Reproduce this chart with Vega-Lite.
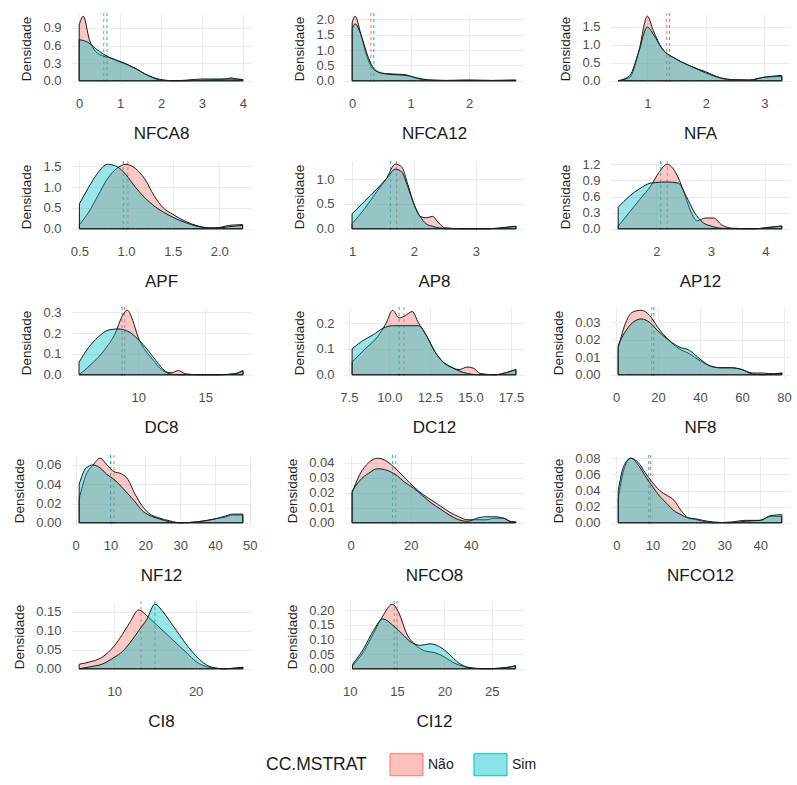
{
"$schema":"https://vega.github.io/schema/vega-lite/v6.json",
"background":"white",
"padding":{"left":12,"top":12,"right":4,"bottom":4},
"datasets":{
"d":[
{"v":"NFCA8","g":"Não","k":"m","x":0.6},{"v":"NFCA8","g":"Sim","k":"m","x":0.68},
{"v":"NFCA12","g":"Não","k":"m","x":0.32},{"v":"NFCA12","g":"Sim","k":"m","x":0.37},
{"v":"NFA","g":"Não","k":"m","x":1.33},{"v":"NFA","g":"Sim","k":"m","x":1.38},
{"v":"APF","g":"Não","k":"m","x":1.02},{"v":"APF","g":"Sim","k":"m","x":0.97},
{"v":"AP8","g":"Não","k":"m","x":1.72},{"v":"AP8","g":"Sim","k":"m","x":1.62},
{"v":"AP12","g":"Não","k":"m","x":2.2},{"v":"AP12","g":"Sim","k":"m","x":2.08},
{"v":"DC8","g":"Não","k":"m","x":9.0},{"v":"DC8","g":"Sim","k":"m","x":8.8},
{"v":"DC12","g":"Não","k":"m","x":10.9},{"v":"DC12","g":"Sim","k":"m","x":10.6},
{"v":"NF8","g":"Não","k":"m","x":17},{"v":"NF8","g":"Sim","k":"m","x":18},
{"v":"NF12","g":"Não","k":"m","x":11},{"v":"NF12","g":"Sim","k":"m","x":10},
{"v":"NFCO8","g":"Não","k":"m","x":15},{"v":"NFCO8","g":"Sim","k":"m","x":14},
{"v":"NFCO12","g":"Não","k":"m","x":9.5},{"v":"NFCO12","g":"Sim","k":"m","x":9},
{"v":"CI8","g":"Não","k":"m","x":13.3},{"v":"CI8","g":"Sim","k":"m","x":15.0},
{"v":"CI12","g":"Não","k":"m","x":15},{"v":"CI12","g":"Sim","k":"m","x":14.7},

{"v":"NFCA8","g":"Não","x":0,"y":0.95},{"v":"NFCA8","g":"Não","x":0.1,"y":1.1},{"v":"NFCA8","g":"Não","x":0.25,"y":0.7},{"v":"NFCA8","g":"Não","x":0.4,"y":0.5},{"v":"NFCA8","g":"Não","x":0.6,"y":0.42},{"v":"NFCA8","g":"Não","x":0.8,"y":0.38},{"v":"NFCA8","g":"Não","x":1.0,"y":0.32},{"v":"NFCA8","g":"Não","x":1.2,"y":0.27},{"v":"NFCA8","g":"Não","x":1.4,"y":0.2},{"v":"NFCA8","g":"Não","x":1.6,"y":0.12},{"v":"NFCA8","g":"Não","x":1.8,"y":0.05},{"v":"NFCA8","g":"Não","x":2.0,"y":0.01},{"v":"NFCA8","g":"Não","x":2.5,"y":0.0},{"v":"NFCA8","g":"Não","x":3.0,"y":0.01},{"v":"NFCA8","g":"Não","x":3.3,"y":0.02},{"v":"NFCA8","g":"Não","x":3.6,"y":0.03},{"v":"NFCA8","g":"Não","x":3.7,"y":0.05},{"v":"NFCA8","g":"Não","x":3.85,"y":0.03},{"v":"NFCA8","g":"Não","x":4.0,"y":0.02},
{"v":"NFCA8","g":"Sim","x":0,"y":0.7},{"v":"NFCA8","g":"Sim","x":0.2,"y":0.66},{"v":"NFCA8","g":"Sim","x":0.4,"y":0.55},{"v":"NFCA8","g":"Sim","x":0.6,"y":0.45},{"v":"NFCA8","g":"Sim","x":0.8,"y":0.38},{"v":"NFCA8","g":"Sim","x":1.0,"y":0.33},{"v":"NFCA8","g":"Sim","x":1.2,"y":0.27},{"v":"NFCA8","g":"Sim","x":1.4,"y":0.2},{"v":"NFCA8","g":"Sim","x":1.6,"y":0.12},{"v":"NFCA8","g":"Sim","x":1.8,"y":0.06},{"v":"NFCA8","g":"Sim","x":2.0,"y":0.02},{"v":"NFCA8","g":"Sim","x":2.3,"y":0.0},{"v":"NFCA8","g":"Sim","x":2.6,"y":0.01},{"v":"NFCA8","g":"Sim","x":3.0,"y":0.03},{"v":"NFCA8","g":"Sim","x":3.4,"y":0.03},{"v":"NFCA8","g":"Sim","x":3.7,"y":0.03},{"v":"NFCA8","g":"Sim","x":4.0,"y":0.02},

{"v":"NFCA12","g":"Não","x":0,"y":1.9},{"v":"NFCA12","g":"Não","x":0.05,"y":2.1},{"v":"NFCA12","g":"Não","x":0.15,"y":1.5},{"v":"NFCA12","g":"Não","x":0.25,"y":0.8},{"v":"NFCA12","g":"Não","x":0.35,"y":0.4},{"v":"NFCA12","g":"Não","x":0.5,"y":0.25},{"v":"NFCA12","g":"Não","x":0.7,"y":0.22},{"v":"NFCA12","g":"Não","x":0.9,"y":0.2},{"v":"NFCA12","g":"Não","x":1.1,"y":0.08},{"v":"NFCA12","g":"Não","x":1.3,"y":0.02},{"v":"NFCA12","g":"Não","x":1.6,"y":0.01},{"v":"NFCA12","g":"Não","x":2.0,"y":0.02},{"v":"NFCA12","g":"Não","x":2.4,"y":0.01},{"v":"NFCA12","g":"Não","x":2.8,"y":0.02},
{"v":"NFCA12","g":"Sim","x":0,"y":1.7},{"v":"NFCA12","g":"Sim","x":0.05,"y":1.85},{"v":"NFCA12","g":"Sim","x":0.15,"y":1.5},{"v":"NFCA12","g":"Sim","x":0.25,"y":0.9},{"v":"NFCA12","g":"Sim","x":0.35,"y":0.45},{"v":"NFCA12","g":"Sim","x":0.5,"y":0.25},{"v":"NFCA12","g":"Sim","x":0.7,"y":0.2},{"v":"NFCA12","g":"Sim","x":0.9,"y":0.18},{"v":"NFCA12","g":"Sim","x":1.1,"y":0.1},{"v":"NFCA12","g":"Sim","x":1.3,"y":0.03},{"v":"NFCA12","g":"Sim","x":1.6,"y":0.01},{"v":"NFCA12","g":"Sim","x":2.0,"y":0.02},{"v":"NFCA12","g":"Sim","x":2.4,"y":0.01},{"v":"NFCA12","g":"Sim","x":2.8,"y":0.02},

{"v":"NFA","g":"Não","x":0.5,"y":0.0},{"v":"NFA","g":"Não","x":0.7,"y":0.1},{"v":"NFA","g":"Não","x":0.85,"y":0.8},{"v":"NFA","g":"Não","x":1.0,"y":1.8},{"v":"NFA","g":"Não","x":1.1,"y":1.4},{"v":"NFA","g":"Não","x":1.25,"y":0.9},{"v":"NFA","g":"Não","x":1.5,"y":0.6},{"v":"NFA","g":"Não","x":1.75,"y":0.4},{"v":"NFA","g":"Não","x":2.0,"y":0.25},{"v":"NFA","g":"Não","x":2.25,"y":0.08},{"v":"NFA","g":"Não","x":2.5,"y":0.02},{"v":"NFA","g":"Não","x":2.75,"y":0.02},{"v":"NFA","g":"Não","x":3.0,"y":0.1},{"v":"NFA","g":"Não","x":3.3,"y":0.12},
{"v":"NFA","g":"Sim","x":0.5,"y":0.0},{"v":"NFA","g":"Sim","x":0.7,"y":0.15},{"v":"NFA","g":"Sim","x":0.85,"y":0.8},{"v":"NFA","g":"Sim","x":1.0,"y":1.5},{"v":"NFA","g":"Sim","x":1.1,"y":1.3},{"v":"NFA","g":"Sim","x":1.25,"y":0.9},{"v":"NFA","g":"Sim","x":1.5,"y":0.6},{"v":"NFA","g":"Sim","x":1.75,"y":0.4},{"v":"NFA","g":"Sim","x":2.0,"y":0.22},{"v":"NFA","g":"Sim","x":2.25,"y":0.08},{"v":"NFA","g":"Sim","x":2.5,"y":0.03},{"v":"NFA","g":"Sim","x":2.75,"y":0.02},{"v":"NFA","g":"Sim","x":3.0,"y":0.1},{"v":"NFA","g":"Sim","x":3.3,"y":0.15},

{"v":"APF","g":"Não","x":0.5,"y":0.1},{"v":"APF","g":"Não","x":0.6,"y":0.4},{"v":"APF","g":"Não","x":0.7,"y":0.8},{"v":"APF","g":"Não","x":0.8,"y":1.2},{"v":"APF","g":"Não","x":0.9,"y":1.45},{"v":"APF","g":"Não","x":1.0,"y":1.55},{"v":"APF","g":"Não","x":1.1,"y":1.45},{"v":"APF","g":"Não","x":1.2,"y":1.2},{"v":"APF","g":"Não","x":1.3,"y":0.8},{"v":"APF","g":"Não","x":1.4,"y":0.5},{"v":"APF","g":"Não","x":1.5,"y":0.35},{"v":"APF","g":"Não","x":1.6,"y":0.22},{"v":"APF","g":"Não","x":1.7,"y":0.12},{"v":"APF","g":"Não","x":1.8,"y":0.05},{"v":"APF","g":"Não","x":1.9,"y":0.02},{"v":"APF","g":"Não","x":2.0,"y":0.03},{"v":"APF","g":"Não","x":2.1,"y":0.08},{"v":"APF","g":"Não","x":2.25,"y":0.1},
{"v":"APF","g":"Sim","x":0.5,"y":0.6},{"v":"APF","g":"Sim","x":0.6,"y":1.0},{"v":"APF","g":"Sim","x":0.7,"y":1.35},{"v":"APF","g":"Sim","x":0.8,"y":1.55},{"v":"APF","g":"Sim","x":0.9,"y":1.5},{"v":"APF","g":"Sim","x":1.0,"y":1.3},{"v":"APF","g":"Sim","x":1.1,"y":1.0},{"v":"APF","g":"Sim","x":1.2,"y":0.75},{"v":"APF","g":"Sim","x":1.3,"y":0.55},{"v":"APF","g":"Sim","x":1.4,"y":0.4},{"v":"APF","g":"Sim","x":1.5,"y":0.28},{"v":"APF","g":"Sim","x":1.6,"y":0.18},{"v":"APF","g":"Sim","x":1.7,"y":0.1},{"v":"APF","g":"Sim","x":1.8,"y":0.04},{"v":"APF","g":"Sim","x":1.9,"y":0.02},{"v":"APF","g":"Sim","x":2.0,"y":0.02},{"v":"APF","g":"Sim","x":2.1,"y":0.05},{"v":"APF","g":"Sim","x":2.25,"y":0.08},

{"v":"AP8","g":"Não","x":1.0,"y":0.1},{"v":"AP8","g":"Não","x":1.2,"y":0.4},{"v":"AP8","g":"Não","x":1.4,"y":0.75},{"v":"AP8","g":"Não","x":1.55,"y":1.0},{"v":"AP8","g":"Não","x":1.7,"y":1.3},{"v":"AP8","g":"Não","x":1.8,"y":1.25},{"v":"AP8","g":"Não","x":1.9,"y":0.9},{"v":"AP8","g":"Não","x":2.0,"y":0.5},{"v":"AP8","g":"Não","x":2.1,"y":0.25},{"v":"AP8","g":"Não","x":2.2,"y":0.22},{"v":"AP8","g":"Não","x":2.3,"y":0.25},{"v":"AP8","g":"Não","x":2.4,"y":0.12},{"v":"AP8","g":"Não","x":2.5,"y":0.02},{"v":"AP8","g":"Não","x":2.8,"y":0.0},{"v":"AP8","g":"Não","x":3.2,"y":0.0},{"v":"AP8","g":"Não","x":3.5,"y":0.03},{"v":"AP8","g":"Não","x":3.65,"y":0.05},
{"v":"AP8","g":"Sim","x":1.0,"y":0.3},{"v":"AP8","g":"Sim","x":1.2,"y":0.55},{"v":"AP8","g":"Sim","x":1.4,"y":0.8},{"v":"AP8","g":"Sim","x":1.55,"y":1.0},{"v":"AP8","g":"Sim","x":1.7,"y":1.2},{"v":"AP8","g":"Sim","x":1.8,"y":1.15},{"v":"AP8","g":"Sim","x":1.9,"y":0.85},{"v":"AP8","g":"Sim","x":2.0,"y":0.5},{"v":"AP8","g":"Sim","x":2.1,"y":0.25},{"v":"AP8","g":"Sim","x":2.2,"y":0.1},{"v":"AP8","g":"Sim","x":2.3,"y":0.05},{"v":"AP8","g":"Sim","x":2.4,"y":0.02},{"v":"AP8","g":"Sim","x":2.6,"y":0.0},{"v":"AP8","g":"Sim","x":3.2,"y":0.0},{"v":"AP8","g":"Sim","x":3.5,"y":0.03},{"v":"AP8","g":"Sim","x":3.65,"y":0.05},

{"v":"AP12","g":"Não","x":1.3,"y":0.05},{"v":"AP12","g":"Não","x":1.5,"y":0.3},{"v":"AP12","g":"Não","x":1.7,"y":0.55},{"v":"AP12","g":"Não","x":1.9,"y":0.8},{"v":"AP12","g":"Não","x":2.05,"y":1.05},{"v":"AP12","g":"Não","x":2.2,"y":1.2},{"v":"AP12","g":"Não","x":2.35,"y":1.05},{"v":"AP12","g":"Não","x":2.5,"y":0.7},{"v":"AP12","g":"Não","x":2.6,"y":0.4},{"v":"AP12","g":"Não","x":2.75,"y":0.15},{"v":"AP12","g":"Não","x":2.9,"y":0.2},{"v":"AP12","g":"Não","x":3.05,"y":0.2},{"v":"AP12","g":"Não","x":3.2,"y":0.07},{"v":"AP12","g":"Não","x":3.4,"y":0.01},{"v":"AP12","g":"Não","x":3.8,"y":0.0},{"v":"AP12","g":"Não","x":4.1,"y":0.03},{"v":"AP12","g":"Não","x":4.3,"y":0.05},
{"v":"AP12","g":"Sim","x":1.3,"y":0.4},{"v":"AP12","g":"Sim","x":1.5,"y":0.6},{"v":"AP12","g":"Sim","x":1.7,"y":0.75},{"v":"AP12","g":"Sim","x":1.9,"y":0.85},{"v":"AP12","g":"Sim","x":2.2,"y":0.87},{"v":"AP12","g":"Sim","x":2.4,"y":0.85},{"v":"AP12","g":"Sim","x":2.55,"y":0.6},{"v":"AP12","g":"Sim","x":2.7,"y":0.3},{"v":"AP12","g":"Sim","x":2.85,"y":0.12},{"v":"AP12","g":"Sim","x":3.0,"y":0.05},{"v":"AP12","g":"Sim","x":3.2,"y":0.01},{"v":"AP12","g":"Sim","x":3.5,"y":0.0},{"v":"AP12","g":"Sim","x":3.8,"y":0.0},{"v":"AP12","g":"Sim","x":4.1,"y":0.03},{"v":"AP12","g":"Sim","x":4.3,"y":0.05},

{"v":"DC8","g":"Não","x":5.6,"y":0.0},{"v":"DC8","g":"Não","x":6.5,"y":0.05},{"v":"DC8","g":"Não","x":7.5,"y":0.12},{"v":"DC8","g":"Não","x":8.3,"y":0.2},{"v":"DC8","g":"Não","x":8.8,"y":0.28},{"v":"DC8","g":"Não","x":9.2,"y":0.31},{"v":"DC8","g":"Não","x":9.6,"y":0.26},{"v":"DC8","g":"Não","x":10.0,"y":0.18},{"v":"DC8","g":"Não","x":10.5,"y":0.12},{"v":"DC8","g":"Não","x":11.0,"y":0.08},{"v":"DC8","g":"Não","x":11.5,"y":0.04},{"v":"DC8","g":"Não","x":12.0,"y":0.015},{"v":"DC8","g":"Não","x":12.5,"y":0.01},{"v":"DC8","g":"Não","x":13.0,"y":0.02},{"v":"DC8","g":"Não","x":13.5,"y":0.005},{"v":"DC8","g":"Não","x":14.5,"y":0.0},{"v":"DC8","g":"Não","x":16,"y":0.0},{"v":"DC8","g":"Não","x":17.2,"y":0.005},{"v":"DC8","g":"Não","x":17.8,"y":0.02},
{"v":"DC8","g":"Sim","x":5.6,"y":0.06},{"v":"DC8","g":"Sim","x":6.3,"y":0.13},{"v":"DC8","g":"Sim","x":7.0,"y":0.18},{"v":"DC8","g":"Sim","x":7.8,"y":0.215},{"v":"DC8","g":"Sim","x":8.5,"y":0.22},{"v":"DC8","g":"Sim","x":9.2,"y":0.21},{"v":"DC8","g":"Sim","x":10.0,"y":0.17},{"v":"DC8","g":"Sim","x":10.7,"y":0.12},{"v":"DC8","g":"Sim","x":11.3,"y":0.07},{"v":"DC8","g":"Sim","x":11.8,"y":0.03},{"v":"DC8","g":"Sim","x":12.3,"y":0.005},{"v":"DC8","g":"Sim","x":13,"y":0.0},{"v":"DC8","g":"Sim","x":16,"y":0.0},{"v":"DC8","g":"Sim","x":17.2,"y":0.005},{"v":"DC8","g":"Sim","x":17.8,"y":0.02},

{"v":"DC12","g":"Não","x":7.7,"y":0.05},{"v":"DC12","g":"Não","x":8.5,"y":0.1},{"v":"DC12","g":"Não","x":9.3,"y":0.15},{"v":"DC12","g":"Não","x":9.8,"y":0.2},{"v":"DC12","g":"Não","x":10.2,"y":0.25},{"v":"DC12","g":"Não","x":10.6,"y":0.22},{"v":"DC12","g":"Não","x":11.0,"y":0.23},{"v":"DC12","g":"Não","x":11.4,"y":0.245},{"v":"DC12","g":"Não","x":11.8,"y":0.2},{"v":"DC12","g":"Não","x":12.3,"y":0.15},{"v":"DC12","g":"Não","x":12.8,"y":0.09},{"v":"DC12","g":"Não","x":13.3,"y":0.05},{"v":"DC12","g":"Não","x":13.8,"y":0.03},{"v":"DC12","g":"Não","x":14.3,"y":0.02},{"v":"DC12","g":"Não","x":14.8,"y":0.03},{"v":"DC12","g":"Não","x":15.2,"y":0.025},{"v":"DC12","g":"Não","x":15.6,"y":0.005},{"v":"DC12","g":"Não","x":16.5,"y":0.0},{"v":"DC12","g":"Não","x":17.3,"y":0.01},{"v":"DC12","g":"Não","x":17.8,"y":0.02},
{"v":"DC12","g":"Sim","x":7.7,"y":0.1},{"v":"DC12","g":"Sim","x":8.3,"y":0.13},{"v":"DC12","g":"Sim","x":9.0,"y":0.155},{"v":"DC12","g":"Sim","x":9.6,"y":0.18},{"v":"DC12","g":"Sim","x":10.2,"y":0.19},{"v":"DC12","g":"Sim","x":11.0,"y":0.19},{"v":"DC12","g":"Sim","x":11.8,"y":0.19},{"v":"DC12","g":"Sim","x":12.3,"y":0.15},{"v":"DC12","g":"Sim","x":12.8,"y":0.09},{"v":"DC12","g":"Sim","x":13.3,"y":0.05},{"v":"DC12","g":"Sim","x":13.8,"y":0.03},{"v":"DC12","g":"Sim","x":14.3,"y":0.015},{"v":"DC12","g":"Sim","x":14.8,"y":0.005},{"v":"DC12","g":"Sim","x":15.5,"y":0.0},{"v":"DC12","g":"Sim","x":16.5,"y":0.0},{"v":"DC12","g":"Sim","x":17.3,"y":0.01},{"v":"DC12","g":"Sim","x":17.8,"y":0.02},

{"v":"NF8","g":"Não","x":1,"y":0.015},{"v":"NF8","g":"Não","x":4,"y":0.028},{"v":"NF8","g":"Não","x":8,"y":0.036},{"v":"NF8","g":"Não","x":12,"y":0.037},{"v":"NF8","g":"Não","x":16,"y":0.034},{"v":"NF8","g":"Não","x":20,"y":0.027},{"v":"NF8","g":"Não","x":25,"y":0.02},{"v":"NF8","g":"Não","x":30,"y":0.015},{"v":"NF8","g":"Não","x":35,"y":0.012},{"v":"NF8","g":"Não","x":40,"y":0.008},{"v":"NF8","g":"Não","x":45,"y":0.005},{"v":"NF8","g":"Não","x":50,"y":0.004},{"v":"NF8","g":"Não","x":55,"y":0.004},{"v":"NF8","g":"Não","x":60,"y":0.003},{"v":"NF8","g":"Não","x":65,"y":0.001},{"v":"NF8","g":"Não","x":70,"y":0.001},{"v":"NF8","g":"Não","x":75,"y":0.0005},{"v":"NF8","g":"Não","x":79,"y":0.001},
{"v":"NF8","g":"Sim","x":1,"y":0.017},{"v":"NF8","g":"Sim","x":4,"y":0.024},{"v":"NF8","g":"Sim","x":8,"y":0.03},{"v":"NF8","g":"Sim","x":12,"y":0.032},{"v":"NF8","g":"Sim","x":16,"y":0.03},{"v":"NF8","g":"Sim","x":20,"y":0.025},{"v":"NF8","g":"Sim","x":25,"y":0.02},{"v":"NF8","g":"Sim","x":30,"y":0.016},{"v":"NF8","g":"Sim","x":35,"y":0.014},{"v":"NF8","g":"Sim","x":40,"y":0.009},{"v":"NF8","g":"Sim","x":45,"y":0.005},{"v":"NF8","g":"Sim","x":50,"y":0.004},{"v":"NF8","g":"Sim","x":55,"y":0.004},{"v":"NF8","g":"Sim","x":60,"y":0.003},{"v":"NF8","g":"Sim","x":65,"y":0.0005},{"v":"NF8","g":"Sim","x":70,"y":0.0},{"v":"NF8","g":"Sim","x":75,"y":0.0005},{"v":"NF8","g":"Sim","x":79,"y":0.001},

{"v":"NF12","g":"Não","x":1,"y":0.025},{"v":"NF12","g":"Não","x":3,"y":0.05},{"v":"NF12","g":"Não","x":5,"y":0.06},{"v":"NF12","g":"Não","x":7,"y":0.067},{"v":"NF12","g":"Não","x":9,"y":0.06},{"v":"NF12","g":"Não","x":11,"y":0.053},{"v":"NF12","g":"Não","x":13,"y":0.051},{"v":"NF12","g":"Não","x":15,"y":0.045},{"v":"NF12","g":"Não","x":17,"y":0.03},{"v":"NF12","g":"Não","x":19,"y":0.018},{"v":"NF12","g":"Não","x":21,"y":0.01},{"v":"NF12","g":"Não","x":24,"y":0.005},{"v":"NF12","g":"Não","x":27,"y":0.002},{"v":"NF12","g":"Não","x":30,"y":0.0},{"v":"NF12","g":"Não","x":35,"y":0.001},{"v":"NF12","g":"Não","x":40,"y":0.004},{"v":"NF12","g":"Não","x":43,"y":0.006},{"v":"NF12","g":"Não","x":45,"y":0.008},{"v":"NF12","g":"Não","x":48,"y":0.008},
{"v":"NF12","g":"Sim","x":1,"y":0.04},{"v":"NF12","g":"Sim","x":3,"y":0.057},{"v":"NF12","g":"Sim","x":5,"y":0.06},{"v":"NF12","g":"Sim","x":7,"y":0.057},{"v":"NF12","g":"Sim","x":9,"y":0.05},{"v":"NF12","g":"Sim","x":11,"y":0.045},{"v":"NF12","g":"Sim","x":13,"y":0.038},{"v":"NF12","g":"Sim","x":15,"y":0.03},{"v":"NF12","g":"Sim","x":17,"y":0.022},{"v":"NF12","g":"Sim","x":19,"y":0.013},{"v":"NF12","g":"Sim","x":21,"y":0.008},{"v":"NF12","g":"Sim","x":24,"y":0.004},{"v":"NF12","g":"Sim","x":27,"y":0.001},{"v":"NF12","g":"Sim","x":30,"y":0.0},{"v":"NF12","g":"Sim","x":35,"y":0.001},{"v":"NF12","g":"Sim","x":40,"y":0.004},{"v":"NF12","g":"Sim","x":43,"y":0.007},{"v":"NF12","g":"Sim","x":45,"y":0.009},{"v":"NF12","g":"Sim","x":48,"y":0.009},

{"v":"NFCO8","g":"Não","x":0.5,"y":0.02},{"v":"NFCO8","g":"Não","x":3,"y":0.032},{"v":"NFCO8","g":"Não","x":6,"y":0.04},{"v":"NFCO8","g":"Não","x":9,"y":0.043},{"v":"NFCO8","g":"Não","x":12,"y":0.041},{"v":"NFCO8","g":"Não","x":15,"y":0.036},{"v":"NFCO8","g":"Não","x":18,"y":0.03},{"v":"NFCO8","g":"Não","x":21,"y":0.024},{"v":"NFCO8","g":"Não","x":24,"y":0.019},{"v":"NFCO8","g":"Não","x":27,"y":0.015},{"v":"NFCO8","g":"Não","x":30,"y":0.011},{"v":"NFCO8","g":"Não","x":33,"y":0.007},{"v":"NFCO8","g":"Não","x":36,"y":0.004},{"v":"NFCO8","g":"Não","x":39,"y":0.002},{"v":"NFCO8","g":"Não","x":42,"y":0.002},{"v":"NFCO8","g":"Não","x":45,"y":0.002},{"v":"NFCO8","g":"Não","x":48,"y":0.003},{"v":"NFCO8","g":"Não","x":51,"y":0.003},{"v":"NFCO8","g":"Não","x":53,"y":0.001},{"v":"NFCO8","g":"Não","x":55,"y":0.0005},
{"v":"NFCO8","g":"Sim","x":0.5,"y":0.021},{"v":"NFCO8","g":"Sim","x":3,"y":0.028},{"v":"NFCO8","g":"Sim","x":6,"y":0.033},{"v":"NFCO8","g":"Sim","x":9,"y":0.036},{"v":"NFCO8","g":"Sim","x":12,"y":0.035},{"v":"NFCO8","g":"Sim","x":15,"y":0.032},{"v":"NFCO8","g":"Sim","x":18,"y":0.027},{"v":"NFCO8","g":"Sim","x":21,"y":0.023},{"v":"NFCO8","g":"Sim","x":24,"y":0.018},{"v":"NFCO8","g":"Sim","x":27,"y":0.013},{"v":"NFCO8","g":"Sim","x":30,"y":0.009},{"v":"NFCO8","g":"Sim","x":33,"y":0.005},{"v":"NFCO8","g":"Sim","x":36,"y":0.002},{"v":"NFCO8","g":"Sim","x":39,"y":0.001},{"v":"NFCO8","g":"Sim","x":42,"y":0.003},{"v":"NFCO8","g":"Sim","x":45,"y":0.004},{"v":"NFCO8","g":"Sim","x":48,"y":0.004},{"v":"NFCO8","g":"Sim","x":51,"y":0.003},{"v":"NFCO8","g":"Sim","x":53,"y":0.001},{"v":"NFCO8","g":"Sim","x":55,"y":0.0005},

{"v":"NFCO12","g":"Não","x":0.5,"y":0.03},{"v":"NFCO12","g":"Não","x":2,"y":0.065},{"v":"NFCO12","g":"Não","x":4,"y":0.08},{"v":"NFCO12","g":"Não","x":6,"y":0.075},{"v":"NFCO12","g":"Não","x":8,"y":0.062},{"v":"NFCO12","g":"Não","x":10,"y":0.05},{"v":"NFCO12","g":"Não","x":12,"y":0.04},{"v":"NFCO12","g":"Não","x":14,"y":0.034},{"v":"NFCO12","g":"Não","x":16,"y":0.028},{"v":"NFCO12","g":"Não","x":18,"y":0.015},{"v":"NFCO12","g":"Não","x":20,"y":0.006},{"v":"NFCO12","g":"Não","x":22,"y":0.004},{"v":"NFCO12","g":"Não","x":24,"y":0.002},{"v":"NFCO12","g":"Não","x":27,"y":0.0},{"v":"NFCO12","g":"Não","x":32,"y":0.001},{"v":"NFCO12","g":"Não","x":36,"y":0.003},{"v":"NFCO12","g":"Não","x":40,"y":0.003},{"v":"NFCO12","g":"Não","x":43,"y":0.008},{"v":"NFCO12","g":"Não","x":46,"y":0.008},
{"v":"NFCO12","g":"Sim","x":0.5,"y":0.04},{"v":"NFCO12","g":"Sim","x":2,"y":0.07},{"v":"NFCO12","g":"Sim","x":4,"y":0.08},{"v":"NFCO12","g":"Sim","x":6,"y":0.072},{"v":"NFCO12","g":"Sim","x":8,"y":0.058},{"v":"NFCO12","g":"Sim","x":10,"y":0.045},{"v":"NFCO12","g":"Sim","x":12,"y":0.033},{"v":"NFCO12","g":"Sim","x":14,"y":0.024},{"v":"NFCO12","g":"Sim","x":16,"y":0.015},{"v":"NFCO12","g":"Sim","x":18,"y":0.01},{"v":"NFCO12","g":"Sim","x":20,"y":0.006},{"v":"NFCO12","g":"Sim","x":22,"y":0.005},{"v":"NFCO12","g":"Sim","x":24,"y":0.003},{"v":"NFCO12","g":"Sim","x":27,"y":0.001},{"v":"NFCO12","g":"Sim","x":32,"y":0.0},{"v":"NFCO12","g":"Sim","x":36,"y":0.002},{"v":"NFCO12","g":"Sim","x":40,"y":0.003},{"v":"NFCO12","g":"Sim","x":43,"y":0.009},{"v":"NFCO12","g":"Sim","x":46,"y":0.01},

{"v":"CI8","g":"Não","x":5.7,"y":0.012},{"v":"CI8","g":"Não","x":7,"y":0.018},{"v":"CI8","g":"Não","x":8.5,"y":0.03},{"v":"CI8","g":"Não","x":10,"y":0.06},{"v":"CI8","g":"Não","x":11,"y":0.09},{"v":"CI8","g":"Não","x":12,"y":0.125},{"v":"CI8","g":"Não","x":13,"y":0.155},{"v":"CI8","g":"Não","x":14,"y":0.14},{"v":"CI8","g":"Não","x":15,"y":0.12},{"v":"CI8","g":"Não","x":16,"y":0.1},{"v":"CI8","g":"Não","x":17,"y":0.08},{"v":"CI8","g":"Não","x":18,"y":0.06},{"v":"CI8","g":"Não","x":19,"y":0.04},{"v":"CI8","g":"Não","x":20,"y":0.02},{"v":"CI8","g":"Não","x":21,"y":0.008},{"v":"CI8","g":"Não","x":22,"y":0.003},{"v":"CI8","g":"Não","x":23.5,"y":0.0},{"v":"CI8","g":"Não","x":25,"y":0.002},{"v":"CI8","g":"Não","x":25.8,"y":0.004},
{"v":"CI8","g":"Sim","x":5.7,"y":0.0},{"v":"CI8","g":"Sim","x":7,"y":0.005},{"v":"CI8","g":"Sim","x":8.5,"y":0.012},{"v":"CI8","g":"Sim","x":10,"y":0.03},{"v":"CI8","g":"Sim","x":11,"y":0.045},{"v":"CI8","g":"Sim","x":12,"y":0.07},{"v":"CI8","g":"Sim","x":13,"y":0.1},{"v":"CI8","g":"Sim","x":14,"y":0.13},{"v":"CI8","g":"Sim","x":15,"y":0.17},{"v":"CI8","g":"Sim","x":16,"y":0.15},{"v":"CI8","g":"Sim","x":17,"y":0.12},{"v":"CI8","g":"Sim","x":18,"y":0.09},{"v":"CI8","g":"Sim","x":19,"y":0.06},{"v":"CI8","g":"Sim","x":20,"y":0.035},{"v":"CI8","g":"Sim","x":21,"y":0.015},{"v":"CI8","g":"Sim","x":22,"y":0.004},{"v":"CI8","g":"Sim","x":23.5,"y":0.0},{"v":"CI8","g":"Sim","x":25,"y":0.002},{"v":"CI8","g":"Sim","x":25.8,"y":0.004},

{"v":"CI12","g":"Não","x":10.3,"y":0.01},{"v":"CI12","g":"Não","x":11.5,"y":0.06},{"v":"CI12","g":"Não","x":12.5,"y":0.12},{"v":"CI12","g":"Não","x":13.5,"y":0.18},{"v":"CI12","g":"Não","x":14.5,"y":0.22},{"v":"CI12","g":"Não","x":15.2,"y":0.19},{"v":"CI12","g":"Não","x":16,"y":0.12},{"v":"CI12","g":"Não","x":17,"y":0.08},{"v":"CI12","g":"Não","x":18,"y":0.06},{"v":"CI12","g":"Não","x":19,"y":0.055},{"v":"CI12","g":"Não","x":20,"y":0.04},{"v":"CI12","g":"Não","x":21,"y":0.02},{"v":"CI12","g":"Não","x":22,"y":0.008},{"v":"CI12","g":"Não","x":23,"y":0.002},{"v":"CI12","g":"Não","x":25,"y":0.0},{"v":"CI12","g":"Não","x":26.5,"y":0.004},{"v":"CI12","g":"Não","x":27.5,"y":0.01},
{"v":"CI12","g":"Sim","x":10.3,"y":0.015},{"v":"CI12","g":"Sim","x":11.5,"y":0.07},{"v":"CI12","g":"Sim","x":12.5,"y":0.13},{"v":"CI12","g":"Sim","x":13.5,"y":0.17},{"v":"CI12","g":"Sim","x":14.5,"y":0.15},{"v":"CI12","g":"Sim","x":15.5,"y":0.12},{"v":"CI12","g":"Sim","x":16.5,"y":0.09},{"v":"CI12","g":"Sim","x":17.5,"y":0.08},{"v":"CI12","g":"Sim","x":18.5,"y":0.085},{"v":"CI12","g":"Sim","x":19.5,"y":0.075},{"v":"CI12","g":"Sim","x":20.5,"y":0.05},{"v":"CI12","g":"Sim","x":21.5,"y":0.02},{"v":"CI12","g":"Sim","x":22.5,"y":0.005},{"v":"CI12","g":"Sim","x":24,"y":0.0},{"v":"CI12","g":"Sim","x":26.5,"y":0.004},{"v":"CI12","g":"Sim","x":27.5,"y":0.01}
]},
"data":{"name":"d"},
"columns":3,
"spacing":{"row":17,"column":27},
"resolve":{"scale":{"x":"independent","y":"independent","color":"shared"}},
"concat":[
{"transform":[{"filter":"datum.v==='NFCA8'"}],"width":180,"height":71,
 "encoding":{"x":{"field":"x","type":"quantitative","scale":{"domain":[-0.2,4.2],"nice":false,"zero":false},"axis":{"title":"NFCA8","values":[0,1,2,3,4],"format":"d"}},"color":{"field":"g","type":"nominal","title":"CC.MSTRAT","scale":{"domain":["Não","Sim"],"range":["#F8766D","#00BFC4"]},"legend":{"symbolStrokeColor":"#1a1a1a","symbolStrokeWidth":1,"encode":{"symbols":{"update":{"fillOpacity":{"value":0.45},"strokeOpacity":{"value":1},"stroke":{"value":"#1a1a1a"}}}}}}},
 "layer":[{"transform":[{"filter":"datum.k==='m'"}],"mark":{"type":"rule","strokeDash":[3,3],"strokeWidth":1},"encoding":{}},
 {"transform":[{"filter":"!datum.k"}],"mark":{"type":"area","interpolate":"monotone","fillOpacity":0.4,"stroke":"#1a1a1a","strokeWidth":1},"encoding":{"y":{"field":"y","type":"quantitative","scale":{"domain":[-0.055,1.155],"nice":false,"zero":false},"axis":{"title":"Densidade","values":[0,0.3,0.6,0.9],"format":".1f"}},"y2":{"datum":0}}}]},
{"transform":[{"filter":"datum.v==='NFCA12'"}],"width":180,"height":71,
 "encoding":{"x":{"field":"x","type":"quantitative","scale":{"domain":[-0.14,2.94],"nice":false,"zero":false},"axis":{"title":"NFCA12","values":[0,1,2],"format":"d"}},"color":{"field":"g","type":"nominal","title":"CC.MSTRAT","scale":{"domain":["Não","Sim"],"range":["#F8766D","#00BFC4"]}}},
 "layer":[{"transform":[{"filter":"datum.k==='m'"}],"mark":{"type":"rule","strokeDash":[3,3],"strokeWidth":1},"encoding":{}},
 {"transform":[{"filter":"!datum.k"}],"mark":{"type":"area","interpolate":"monotone","fillOpacity":0.4,"stroke":"#1a1a1a","strokeWidth":1},"encoding":{"y":{"field":"y","type":"quantitative","scale":{"domain":[-0.105,2.205],"nice":false,"zero":false},"axis":{"title":"Densidade","values":[0,0.5,1,1.5,2],"format":".1f"}},"y2":{"datum":0}}}]},
{"transform":[{"filter":"datum.v==='NFA'"}],"width":180,"height":71,
 "encoding":{"x":{"field":"x","type":"quantitative","scale":{"domain":[0.36,3.44],"nice":false,"zero":false},"axis":{"title":"NFA","values":[1,2,3],"format":"d"}},"color":{"field":"g","type":"nominal","title":"CC.MSTRAT","scale":{"domain":["Não","Sim"],"range":["#F8766D","#00BFC4"]}}},
 "layer":[{"transform":[{"filter":"datum.k==='m'"}],"mark":{"type":"rule","strokeDash":[3,3],"strokeWidth":1},"encoding":{}},
 {"transform":[{"filter":"!datum.k"}],"mark":{"type":"area","interpolate":"monotone","fillOpacity":0.4,"stroke":"#1a1a1a","strokeWidth":1},"encoding":{"y":{"field":"y","type":"quantitative","scale":{"domain":[-0.09,1.89],"nice":false,"zero":false},"axis":{"title":"Densidade","values":[0,0.5,1,1.5],"format":".1f"}},"y2":{"datum":0}}}]},
{"transform":[{"filter":"datum.v==='APF'"}],"width":180,"height":71,
 "encoding":{"x":{"field":"x","type":"quantitative","scale":{"domain":[0.41,2.34],"nice":false,"zero":false},"axis":{"title":"APF","values":[0.5,1,1.5,2],"format":".1f"}},"color":{"field":"g","type":"nominal","title":"CC.MSTRAT","scale":{"domain":["Não","Sim"],"range":["#F8766D","#00BFC4"]}}},
 "layer":[{"transform":[{"filter":"datum.k==='m'"}],"mark":{"type":"rule","strokeDash":[3,3],"strokeWidth":1},"encoding":{}},
 {"transform":[{"filter":"!datum.k"}],"mark":{"type":"area","interpolate":"monotone","fillOpacity":0.4,"stroke":"#1a1a1a","strokeWidth":1},"encoding":{"y":{"field":"y","type":"quantitative","scale":{"domain":[-0.078,1.63],"nice":false,"zero":false},"axis":{"title":"Densidade","values":[0,0.5,1,1.5],"format":".1f"}},"y2":{"datum":0}}}]},
{"transform":[{"filter":"datum.v==='AP8'"}],"width":180,"height":71,
 "encoding":{"x":{"field":"x","type":"quantitative","scale":{"domain":[0.87,3.78],"nice":false,"zero":false},"axis":{"title":"AP8","values":[1,2,3],"format":"d"}},"color":{"field":"g","type":"nominal","title":"CC.MSTRAT","scale":{"domain":["Não","Sim"],"range":["#F8766D","#00BFC4"]}}},
 "layer":[{"transform":[{"filter":"datum.k==='m'"}],"mark":{"type":"rule","strokeDash":[3,3],"strokeWidth":1},"encoding":{}},
 {"transform":[{"filter":"!datum.k"}],"mark":{"type":"area","interpolate":"monotone","fillOpacity":0.4,"stroke":"#1a1a1a","strokeWidth":1},"encoding":{"y":{"field":"y","type":"quantitative","scale":{"domain":[-0.065,1.365],"nice":false,"zero":false},"axis":{"title":"Densidade","values":[0,0.5,1],"format":".1f"}},"y2":{"datum":0}}}]},
{"transform":[{"filter":"datum.v==='AP12'"}],"width":180,"height":71,
 "encoding":{"x":{"field":"x","type":"quantitative","scale":{"domain":[1.15,4.45],"nice":false,"zero":false},"axis":{"title":"AP12","values":[2,3,4],"format":"d"}},"color":{"field":"g","type":"nominal","title":"CC.MSTRAT","scale":{"domain":["Não","Sim"],"range":["#F8766D","#00BFC4"]}}},
 "layer":[{"transform":[{"filter":"datum.k==='m'"}],"mark":{"type":"rule","strokeDash":[3,3],"strokeWidth":1},"encoding":{}},
 {"transform":[{"filter":"!datum.k"}],"mark":{"type":"area","interpolate":"monotone","fillOpacity":0.4,"stroke":"#1a1a1a","strokeWidth":1},"encoding":{"y":{"field":"y","type":"quantitative","scale":{"domain":[-0.06,1.26],"nice":false,"zero":false},"axis":{"title":"Densidade","values":[0,0.3,0.6,0.9,1.2],"format":".1f"}},"y2":{"datum":0}}}]},
{"transform":[{"filter":"datum.v==='DC8'"}],"width":180,"height":71,
 "encoding":{"x":{"field":"x","type":"quantitative","scale":{"domain":[5.0,18.4],"nice":false,"zero":false},"axis":{"title":"DC8","values":[10,15],"format":"d"}},"color":{"field":"g","type":"nominal","title":"CC.MSTRAT","scale":{"domain":["Não","Sim"],"range":["#F8766D","#00BFC4"]}}},
 "layer":[{"transform":[{"filter":"datum.k==='m'"}],"mark":{"type":"rule","strokeDash":[3,3],"strokeWidth":1},"encoding":{}},
 {"transform":[{"filter":"!datum.k"}],"mark":{"type":"area","interpolate":"monotone","fillOpacity":0.4,"stroke":"#1a1a1a","strokeWidth":1},"encoding":{"y":{"field":"y","type":"quantitative","scale":{"domain":[-0.0155,0.3255],"nice":false,"zero":false},"axis":{"title":"Densidade","values":[0,0.1,0.2,0.3],"format":".1f"}},"y2":{"datum":0}}}]},
{"transform":[{"filter":"datum.v==='DC12'"}],"width":180,"height":71,
 "encoding":{"x":{"field":"x","type":"quantitative","scale":{"domain":[7.2,18.3],"nice":false,"zero":false},"axis":{"title":"DC12","values":[7.5,10,12.5,15,17.5],"format":".1f"}},"color":{"field":"g","type":"nominal","title":"CC.MSTRAT","scale":{"domain":["Não","Sim"],"range":["#F8766D","#00BFC4"]}}},
 "layer":[{"transform":[{"filter":"datum.k==='m'"}],"mark":{"type":"rule","strokeDash":[3,3],"strokeWidth":1},"encoding":{}},
 {"transform":[{"filter":"!datum.k"}],"mark":{"type":"area","interpolate":"monotone","fillOpacity":0.4,"stroke":"#1a1a1a","strokeWidth":1},"encoding":{"y":{"field":"y","type":"quantitative","scale":{"domain":[-0.0125,0.2625],"nice":false,"zero":false},"axis":{"title":"Densidade","values":[0,0.1,0.2],"format":".1f"}},"y2":{"datum":0}}}]},
{"transform":[{"filter":"datum.v==='NF8'"}],"width":180,"height":71,
 "encoding":{"x":{"field":"x","type":"quantitative","scale":{"domain":[-2.9,82.9],"nice":false,"zero":false},"axis":{"title":"NF8","values":[0,20,40,60,80],"format":"d"}},"color":{"field":"g","type":"nominal","title":"CC.MSTRAT","scale":{"domain":["Não","Sim"],"range":["#F8766D","#00BFC4"]}}},
 "layer":[{"transform":[{"filter":"datum.k==='m'"}],"mark":{"type":"rule","strokeDash":[3,3],"strokeWidth":1},"encoding":{}},
 {"transform":[{"filter":"!datum.k"}],"mark":{"type":"area","interpolate":"monotone","fillOpacity":0.4,"stroke":"#1a1a1a","strokeWidth":1},"encoding":{"y":{"field":"y","type":"quantitative","scale":{"domain":[-0.00185,0.03885],"nice":false,"zero":false},"axis":{"title":"Densidade","values":[0,0.01,0.02,0.03],"format":".2f"}},"y2":{"datum":0}}}]},
{"transform":[{"filter":"datum.v==='NF12'"}],"width":180,"height":71,
 "encoding":{"x":{"field":"x","type":"quantitative","scale":{"domain":[-1.35,50.35],"nice":false,"zero":false},"axis":{"title":"NF12","values":[0,10,20,30,40,50],"format":"d"}},"color":{"field":"g","type":"nominal","title":"CC.MSTRAT","scale":{"domain":["Não","Sim"],"range":["#F8766D","#00BFC4"]}}},
 "layer":[{"transform":[{"filter":"datum.k==='m'"}],"mark":{"type":"rule","strokeDash":[3,3],"strokeWidth":1},"encoding":{}},
 {"transform":[{"filter":"!datum.k"}],"mark":{"type":"area","interpolate":"monotone","fillOpacity":0.4,"stroke":"#1a1a1a","strokeWidth":1},"encoding":{"y":{"field":"y","type":"quantitative","scale":{"domain":[-0.00335,0.07035],"nice":false,"zero":false},"axis":{"title":"Densidade","values":[0,0.02,0.04,0.06],"format":".2f"}},"y2":{"datum":0}}}]},
{"transform":[{"filter":"datum.v==='NFCO8'"}],"width":180,"height":71,
 "encoding":{"x":{"field":"x","type":"quantitative","scale":{"domain":[-2.2,57.7],"nice":false,"zero":false},"axis":{"title":"NFCO8","values":[0,20,40],"format":"d"}},"color":{"field":"g","type":"nominal","title":"CC.MSTRAT","scale":{"domain":["Não","Sim"],"range":["#F8766D","#00BFC4"]}}},
 "layer":[{"transform":[{"filter":"datum.k==='m'"}],"mark":{"type":"rule","strokeDash":[3,3],"strokeWidth":1},"encoding":{}},
 {"transform":[{"filter":"!datum.k"}],"mark":{"type":"area","interpolate":"monotone","fillOpacity":0.4,"stroke":"#1a1a1a","strokeWidth":1},"encoding":{"y":{"field":"y","type":"quantitative","scale":{"domain":[-0.00215,0.04515],"nice":false,"zero":false},"axis":{"title":"Densidade","values":[0,0.01,0.02,0.03,0.04],"format":".2f"}},"y2":{"datum":0}}}]},
{"transform":[{"filter":"datum.v==='NFCO12'"}],"width":180,"height":71,
 "encoding":{"x":{"field":"x","type":"quantitative","scale":{"domain":[-1.8,48.3],"nice":false,"zero":false},"axis":{"title":"NFCO12","values":[0,10,20,30,40],"format":"d"}},"color":{"field":"g","type":"nominal","title":"CC.MSTRAT","scale":{"domain":["Não","Sim"],"range":["#F8766D","#00BFC4"]}}},
 "layer":[{"transform":[{"filter":"datum.k==='m'"}],"mark":{"type":"rule","strokeDash":[3,3],"strokeWidth":1},"encoding":{}},
 {"transform":[{"filter":"!datum.k"}],"mark":{"type":"area","interpolate":"monotone","fillOpacity":0.4,"stroke":"#1a1a1a","strokeWidth":1},"encoding":{"y":{"field":"y","type":"quantitative","scale":{"domain":[-0.004,0.084],"nice":false,"zero":false},"axis":{"title":"Densidade","values":[0,0.02,0.04,0.06,0.08],"format":".2f"}},"y2":{"datum":0}}}]},
{"transform":[{"filter":"datum.v==='CI8'"}],"width":180,"height":71,
 "encoding":{"x":{"field":"x","type":"quantitative","scale":{"domain":[4.7,26.8],"nice":false,"zero":false},"axis":{"title":"CI8","values":[10,20],"format":"d"}},"color":{"field":"g","type":"nominal","title":"CC.MSTRAT","scale":{"domain":["Não","Sim"],"range":["#F8766D","#00BFC4"]}}},
 "layer":[{"transform":[{"filter":"datum.k==='m'"}],"mark":{"type":"rule","strokeDash":[3,3],"strokeWidth":1},"encoding":{}},
 {"transform":[{"filter":"!datum.k"}],"mark":{"type":"area","interpolate":"monotone","fillOpacity":0.4,"stroke":"#1a1a1a","strokeWidth":1},"encoding":{"y":{"field":"y","type":"quantitative","scale":{"domain":[-0.0085,0.1785],"nice":false,"zero":false},"axis":{"title":"Densidade","values":[0,0.05,0.1,0.15],"format":".2f"}},"y2":{"datum":0}}}]},
{"transform":[{"filter":"datum.v==='CI12'"}],"width":180,"height":71,
 "encoding":{"x":{"field":"x","type":"quantitative","scale":{"domain":[9.4,28.4],"nice":false,"zero":false},"axis":{"title":"CI12","values":[10,15,20,25],"format":"d"}},"color":{"field":"g","type":"nominal","title":"CC.MSTRAT","scale":{"domain":["Não","Sim"],"range":["#F8766D","#00BFC4"]}}},
 "layer":[{"transform":[{"filter":"datum.k==='m'"}],"mark":{"type":"rule","strokeDash":[3,3],"strokeWidth":1},"encoding":{}},
 {"transform":[{"filter":"!datum.k"}],"mark":{"type":"area","interpolate":"monotone","fillOpacity":0.4,"stroke":"#1a1a1a","strokeWidth":1},"encoding":{"y":{"field":"y","type":"quantitative","scale":{"domain":[-0.011,0.231],"nice":false,"zero":false},"axis":{"title":"Densidade","values":[0,0.05,0.1,0.15,0.2],"format":".2f"}},"y2":{"datum":0}}}]}
],
"config":{
 "font":"Liberation Sans",
 "view":{"stroke":null},
 "axis":{"gridColor":"#EBEBEB","gridWidth":1,"domain":false,"ticks":false,"labelColor":"#4D4D4D","labelFontSize":13,"titleFontSize":13.5,"titleFontWeight":"normal","titleColor":"#1a1a1a","labelFont":"Liberation Sans","titleFont":"Liberation Sans"},
 "axisX":{"titleFontSize":17,"titlePadding":15,"labelPadding":13},
 "axisY":{"titlePadding":9,"labelPadding":10},
 "legend":{"orient":"bottom","direction":"horizontal","titleOrient":"left","titleFontSize":17.5,"titleFontWeight":"normal","titleColor":"#1a1a1a","titlePadding":28,"labelFontSize":14,"labelColor":"#1a1a1a","symbolType":"M-1.5,-1H1.5V1H-1.5Z","symbolSize":484,"symbolStrokeColor":"#1a1a1a","symbolStrokeWidth":1,"columnPadding":18,"labelOffset":10,"offset":24,"layout":{"bottom":{"anchor":"middle"}}}
}
}
